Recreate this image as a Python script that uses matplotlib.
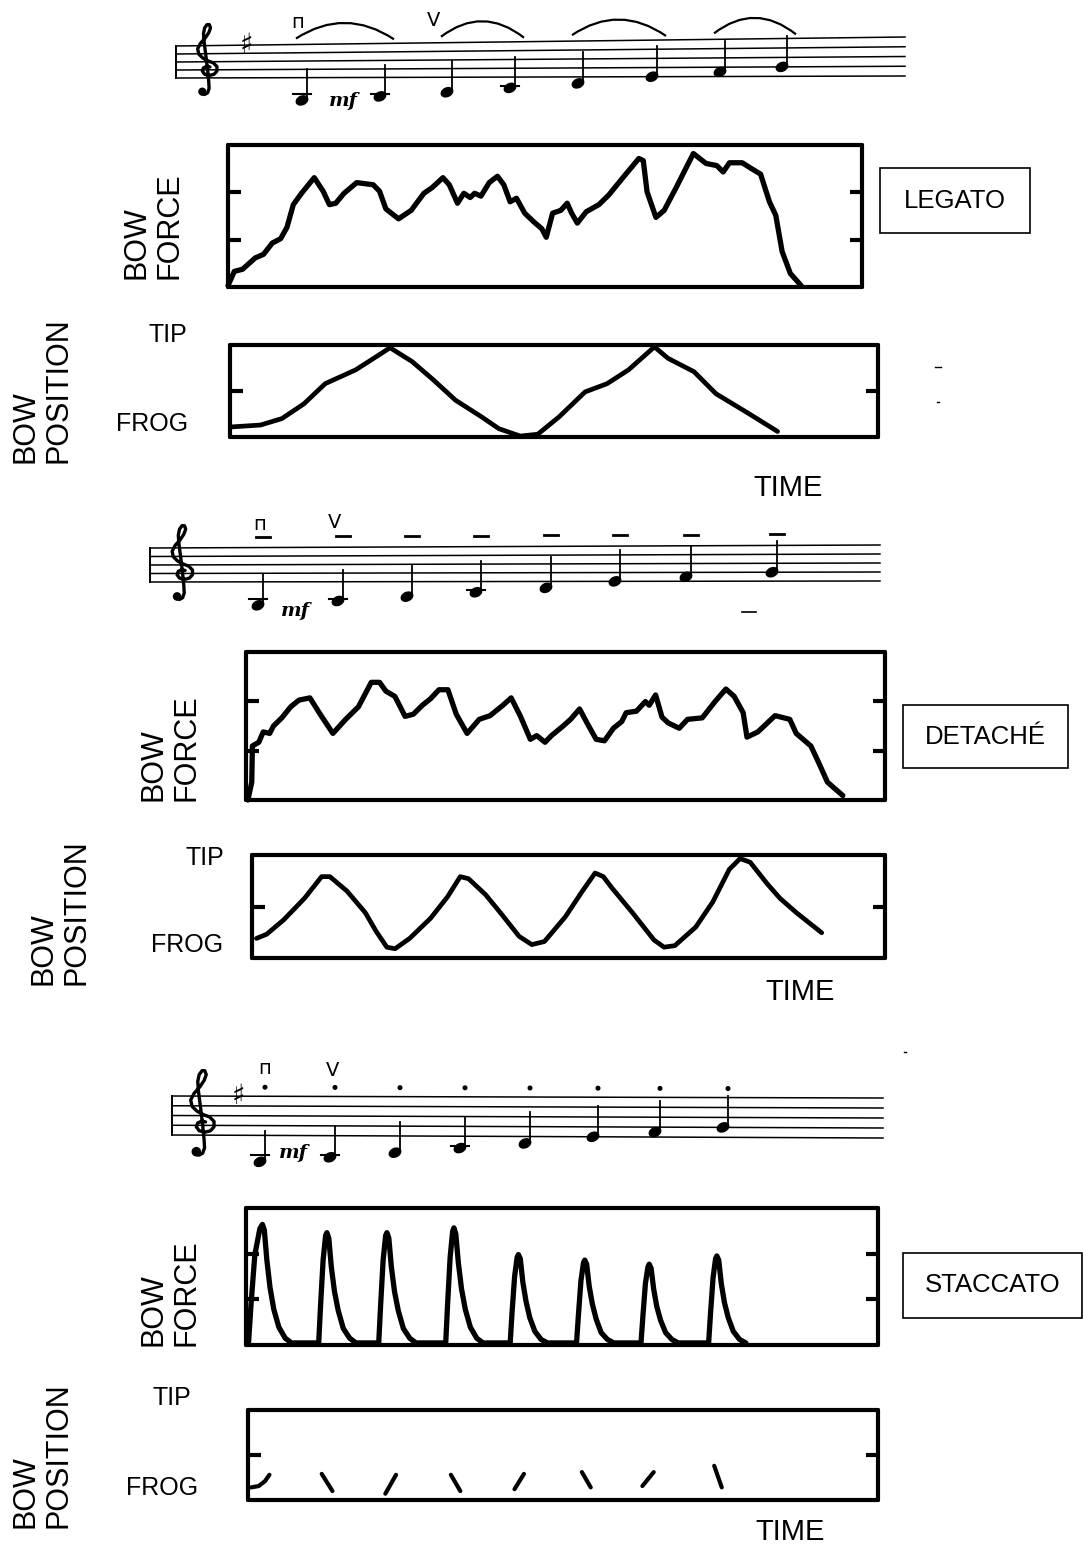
import matplotlib
matplotlib.use("Agg")
import matplotlib.pyplot as plt
from matplotlib.patches import Ellipse, Rectangle, PathPatch, Circle
from matplotlib.path import Path

W, H = 1083, 1548
FONT = "Liberation Sans"

# ---------------- data (normalised time 0..1, value 0..1 inside each panel) ----------------
legato_force = [
    (0.000, 0.01), (0.010, 0.11), (0.023, 0.125), (0.043, 0.205), (0.056, 0.23), (0.070, 0.31),
    (0.083, 0.34), (0.093, 0.42), (0.103, 0.58), (0.116, 0.66), (0.136, 0.77), (0.150, 0.675),
    (0.160, 0.58), (0.170, 0.59), (0.183, 0.66), (0.203, 0.735), (0.229, 0.72), (0.239, 0.675),
    (0.249, 0.55), (0.269, 0.48), (0.289, 0.54), (0.309, 0.66), (0.322, 0.70), (0.339, 0.77),
    (0.349, 0.72), (0.362, 0.59), (0.372, 0.66), (0.382, 0.63), (0.389, 0.66), (0.399, 0.64),
    (0.412, 0.735), (0.425, 0.78), (0.435, 0.72), (0.445, 0.60), (0.455, 0.625), (0.468, 0.52),
    (0.482, 0.46), (0.495, 0.41), (0.502, 0.35), (0.512, 0.52), (0.525, 0.54), (0.535, 0.59),
    (0.542, 0.52), (0.551, 0.45), (0.565, 0.53), (0.585, 0.58), (0.601, 0.65), (0.621, 0.76),
    (0.648, 0.905), (0.655, 0.89), (0.661, 0.67), (0.675, 0.49), (0.688, 0.54), (0.708, 0.71),
    (0.734, 0.94), (0.754, 0.87), (0.771, 0.855), (0.781, 0.81), (0.791, 0.875), (0.811, 0.875),
    (0.827, 0.83), (0.840, 0.795), (0.854, 0.60), (0.864, 0.505), (0.874, 0.25), (0.887, 0.095),
    (0.904, 0.01),
]

legato_position = [
    (0.003, 0.11), (0.047, 0.13), (0.080, 0.20), (0.114, 0.36), (0.147, 0.58), (0.194, 0.73),
    (0.214, 0.82), (0.247, 0.97), (0.281, 0.82), (0.314, 0.62), (0.348, 0.40), (0.388, 0.22),
    (0.415, 0.09), (0.448, 0.01), (0.475, 0.03), (0.508, 0.22), (0.548, 0.49), (0.582, 0.58),
    (0.615, 0.73), (0.655, 0.98), (0.676, 0.855), (0.716, 0.71), (0.750, 0.47), (0.797, 0.27),
    (0.845, 0.06),
]

detache_force = [
    (0.003, 0.00), (0.009, 0.12), (0.010, 0.365), (0.020, 0.39), (0.027, 0.46), (0.037, 0.45),
    (0.043, 0.50), (0.056, 0.555), (0.070, 0.63), (0.083, 0.675), (0.100, 0.69), (0.116, 0.58),
    (0.136, 0.45), (0.156, 0.545), (0.176, 0.63), (0.196, 0.795), (0.209, 0.795), (0.219, 0.735),
    (0.233, 0.70), (0.249, 0.565), (0.262, 0.58), (0.276, 0.64), (0.289, 0.685), (0.302, 0.745),
    (0.316, 0.745), (0.329, 0.58), (0.346, 0.45), (0.365, 0.545), (0.382, 0.57), (0.402, 0.64),
    (0.415, 0.69), (0.429, 0.57), (0.445, 0.41), (0.455, 0.435), (0.468, 0.39), (0.478, 0.435),
    (0.495, 0.495), (0.508, 0.545), (0.522, 0.615), (0.535, 0.51), (0.548, 0.41), (0.561, 0.40),
    (0.575, 0.485), (0.588, 0.53), (0.595, 0.59), (0.611, 0.60), (0.625, 0.665), (0.631, 0.64),
    (0.641, 0.71), (0.651, 0.56), (0.661, 0.52), (0.678, 0.485), (0.691, 0.545), (0.714, 0.555),
    (0.734, 0.665), (0.751, 0.75), (0.764, 0.70), (0.778, 0.59), (0.784, 0.425), (0.801, 0.46),
    (0.828, 0.57), (0.851, 0.545), (0.861, 0.45), (0.884, 0.365), (0.897, 0.245), (0.910, 0.12),
    (0.934, 0.03),
]

detache_position = [
    (0.007, 0.19), (0.023, 0.23), (0.050, 0.37), (0.083, 0.58), (0.110, 0.79), (0.123, 0.79),
    (0.150, 0.65), (0.179, 0.44), (0.196, 0.26), (0.213, 0.105), (0.226, 0.09), (0.249, 0.19),
    (0.282, 0.385), (0.309, 0.595), (0.329, 0.79), (0.342, 0.77), (0.369, 0.615), (0.395, 0.42),
    (0.422, 0.21), (0.442, 0.13), (0.462, 0.16), (0.495, 0.40), (0.522, 0.65), (0.542, 0.825),
    (0.555, 0.79), (0.568, 0.685), (0.601, 0.44), (0.635, 0.175), (0.651, 0.105), (0.668, 0.12),
    (0.701, 0.30), (0.728, 0.545), (0.754, 0.86), (0.771, 0.965), (0.787, 0.93), (0.814, 0.72),
    (0.834, 0.58), (0.860, 0.44), (0.900, 0.245),
]

staccato_force = [
    (0.004, 0.015), (0.008, 0.30), (0.014, 0.66), (0.022, 0.85), (0.026, 0.88), (0.029, 0.84),
    (0.033, 0.62), (0.038, 0.42), (0.044, 0.26), (0.052, 0.13), (0.062, 0.05), (0.072, 0.015),
    (0.115, 0.015), (0.118, 0.29), (0.122, 0.62), (0.126, 0.80), (0.128, 0.82), (0.131, 0.78),
    (0.135, 0.57), (0.140, 0.39), (0.146, 0.25), (0.154, 0.12), (0.164, 0.05), (0.174, 0.015),
    (0.210, 0.015), (0.213, 0.29), (0.217, 0.62), (0.221, 0.80), (0.223, 0.82), (0.226, 0.78),
    (0.230, 0.57), (0.235, 0.39), (0.241, 0.25), (0.249, 0.12), (0.259, 0.05), (0.269, 0.015),
    (0.316, 0.015), (0.319, 0.30), (0.323, 0.64), (0.327, 0.83), (0.329, 0.855), (0.332, 0.81),
    (0.336, 0.60), (0.341, 0.41), (0.347, 0.26), (0.355, 0.13), (0.365, 0.05), (0.375, 0.015),
    (0.418, 0.015), (0.421, 0.24), (0.425, 0.50), (0.429, 0.64), (0.431, 0.66), (0.434, 0.63),
    (0.438, 0.46), (0.443, 0.32), (0.449, 0.20), (0.457, 0.10), (0.467, 0.04), (0.477, 0.015),
    (0.523, 0.015), (0.526, 0.22), (0.530, 0.47), (0.534, 0.60), (0.536, 0.62), (0.539, 0.59),
    (0.543, 0.43), (0.548, 0.30), (0.554, 0.19), (0.562, 0.09), (0.572, 0.04), (0.582, 0.015),
    (0.625, 0.015), (0.628, 0.21), (0.632, 0.45), (0.636, 0.57), (0.638, 0.59), (0.641, 0.56),
    (0.645, 0.41), (0.650, 0.28), (0.656, 0.18), (0.664, 0.09), (0.674, 0.04), (0.684, 0.015),
    (0.732, 0.015), (0.735, 0.23), (0.739, 0.49), (0.743, 0.63), (0.745, 0.65), (0.748, 0.62),
    (0.752, 0.45), (0.757, 0.31), (0.763, 0.20), (0.771, 0.10), (0.781, 0.04), (0.791, 0.015),
]

staccato_position_strokes = [
    [(0.005, 0.14), (0.017, 0.155), (0.027, 0.21), (0.034, 0.28)],
    [(0.117, 0.29), (0.134, 0.10)],
    [(0.235, 0.28), (0.218, 0.07)],
    [(0.322, 0.28), (0.337, 0.10)],
    [(0.438, 0.29), (0.423, 0.12)],
    [(0.530, 0.31), (0.544, 0.14)],
    [(0.644, 0.31), (0.626, 0.155)],
    [(0.740, 0.38), (0.752, 0.14)],
]

force_ticks = [1 / 3, 2 / 3]
position_ticks = [0.5]

scale_notes = ["G3", "A3", "B3", "C4", "D4", "E4", "F#4", "G4"]
note_steps = [-5, -4, -3, -2, -1, 0, 1, 2]          # diatonic steps above the bottom staff line (E4)
ledger_steps = [-4, -4, None, -2, None, None, None, None]
slur_pairs = [(0, 1), (2, 3), (4, 5), (6, 7)]

style_names = ["LEGATO", "DETACHÉ", "STACCATO"]

# ---------------- layout (pixels) ----------------
sections = [
    dict(name=style_names[0], force_box=(228, 145, 862, 287), pos_box=(230, 345, 878, 437),
         force_lbl=(153, 279), pos_lbl=(42, 463), tip=(168, 335), frog=(152, 424),
         style_box=(880, 168, 1030, 233), time=(788, 488),
         staff=(176, 905, 78, 76, 46, 37), clef_x=207, keysig_x=246,
         notes_x=[302, 380, 447, 510, 578, 652, 720, 782], mf=(343, 101),
         bows=[(298, 22), (434, 20)], art="slur",
         force=legato_force, position=legato_position),
    dict(name=style_names[1], force_box=(246, 652, 885, 800), pos_box=(252, 855, 885, 958),
         force_lbl=(170, 801), pos_lbl=(60, 985), tip=(205, 858), frog=(187, 945),
         style_box=(903, 705, 1068, 768), time=(800, 992),
         staff=(150, 880, 582, 581, 548, 545), clef_x=182, keysig_x=None,
         notes_x=[258, 338, 407, 476, 546, 615, 686, 772], mf=(295, 611),
         bows=[(260, 524), (335, 523)], art="tenuto",
         force=detache_force, position=detache_position),
    dict(name=style_names[2], force_box=(246, 1208, 878, 1345), pos_box=(248, 1410, 878, 1500),
         force_lbl=(170, 1346), pos_lbl=(42, 1528), tip=(172, 1398), frog=(162, 1488),
         style_box=(903, 1253, 1082, 1318), time=(790, 1532),
         staff=(172, 883, 1135, 1138, 1096, 1098), clef_x=202, keysig_x=238,
         notes_x=[260, 330, 395, 460, 525, 593, 655, 723], mf=(293, 1153),
         bows=[(265, 1069), (333, 1071)], art="staccato",
         force=staccato_force, position=None),
]

fig = plt.figure(figsize=(W / 100, H / 100), dpi=100)
fig.patch.set_facecolor("white")
ov = fig.add_axes([0, 0, 1, 1])
ov.set_xlim(0, W)
ov.set_ylim(H, 0)
ov.axis("off")


def panel(box, ticks):
    x0, y0, x1, y1 = box
    ax = fig.add_axes([x0 / W, 1 - y1 / H, (x1 - x0) / W, (y1 - y0) / H])
    ax.set_xlim(0, 1)
    ax.set_ylim(0, 1)
    ax.patch.set_alpha(0)
    for s in ax.spines.values():
        s.set_linewidth(3.0)
        s.set_capstyle("round")
    ax.set_xticks([])
    ax.set_yticks(ticks)
    ax.tick_params(axis="y", direction="in", left=True, right=True, length=9, width=3,
                   labelleft=False, labelright=False)
    return ax


def curve(ax, pts, lw=3.8):
    xs = [p[0] for p in pts]
    ys = [p[1] for p in pts]
    ax.plot(xs, ys, color="black", lw=lw, solid_capstyle="round", solid_joinstyle="round",
            clip_on=False)


CLEF = [(0.25, 1.35), (0.0, 1.45), (-0.3, 1.25), (-0.4, 0.85), (-0.2, 0.45), (0.2, 0.3),
        (0.6, 0.45), (0.85, 0.85), (0.85, 1.4), (0.55, 1.85), (0.1, 2.1), (-0.35, 2.45),
        (-0.7, 2.95), (-0.8, 3.6), (-0.55, 4.3), (-0.15, 4.95), (0.15, 5.6), (0.3, 6.2),
        (0.2, 6.6), (0.0, 6.6), (-0.2, 6.2), (-0.3, 5.5), (-0.25, 4.5), (-0.1, 2.8),
        (0.05, 1.0), (0.15, -0.5), (0.18, -1.3), (0.05, -1.85), (-0.2, -2.05), (-0.45, -1.95),
        (-0.55, -1.7)]


def draw_staff(sec):
    x0, x1, yb0, yb1, yt0, yt1 = sec["staff"]

    def geom(x):
        f = (x - x0) / (x1 - x0)
        yb = yb0 + (yb1 - yb0) * f
        yt = yt0 + (yt1 - yt0) * f
        return yb, (yb - yt) / 4.0

    def ypos(x, step):
        yb, sp = geom(x)
        return yb - step * sp / 2.0

    for i in range(5):
        ov.plot([x0, x1], [yb0 + (yt0 - yb0) * i / 4, yb1 + (yt1 - yb1) * i / 4],
                color="black", lw=1.1)
    ov.plot([x0, x0], [yb0, yt0], color="black", lw=1.4)

    # G clef
    cx = sec["clef_x"]
    yb, sp = geom(cx)
    xs = [cx + u * sp * 1.45 for u, v in CLEF]
    ys = [yb - v * sp for u, v in CLEF]
    ov.plot(xs, ys, color="black", lw=2.4, solid_joinstyle="round", solid_capstyle="round")
    ov.add_patch(Circle((cx - 0.4 * sp * 1.45, yb + 1.7 * sp), sp * 0.42, color="black"))

    if sec["keysig_x"] is not None:
        kx = sec["keysig_x"]
        ov.text(kx, ypos(kx, 8), "♯", fontsize=20, family="DejaVu Sans", weight="bold",
                ha="center", va="center", color="black")

    heads = []
    for nx, st, lg in zip(sec["notes_x"], note_steps, ledger_steps):
        ny = ypos(nx, st) + (2 if st < 0 else 0)
        heads.append((nx, ny))
        ov.add_patch(Ellipse((nx, ny), 12, 8.5, angle=-25, color="black"))
        ov.plot([nx + 5, nx + 5], [ny - 1, ny - 31], color="black", lw=1.3)
        if lg is not None:
            ly = ypos(nx, lg)
            ov.plot([nx - 9, nx + 9], [ly, ly], color="black", lw=1.5)

    mx, my = sec["mf"]
    ov.text(mx, my, "mf", fontsize=14, family="DejaVu Serif", style="italic",
            weight="bold", ha="center", va="center")
    for (bx, by), sym in zip(sec["bows"], ["п", "V"]):
        ov.text(bx, by, sym, fontsize=14, family="DejaVu Sans", ha="center", va="center")

    if sec["art"] == "slur":
        for a, b in slur_pairs:
            xa = heads[a][0] - 6
            xb = heads[b][0] + 14
            ya = geom(xa)[0] - 4 * geom(xa)[1] - 6
            yb2 = geom(xb)[0] - 4 * geom(xb)[1] - 4
            cxm = (xa + xb) / 2
            cym = (ya + yb2) / 2 - 32
            p = Path([(xa, ya), (cxm, cym), (xb, yb2)], [Path.MOVETO, Path.CURVE3, Path.CURVE3])
            ov.add_patch(PathPatch(p, fill=False, lw=1.6, color="black"))
    elif sec["art"] == "tenuto":
        for nx, ny in heads:
            yt = geom(nx)[0] - 4 * geom(nx)[1]
            ov.plot([nx - 2, nx + 12], [yt - 11, yt - 11], color="black", lw=2.0)
    else:
        for nx, ny in heads:
            yt = geom(nx)[0] - 4 * geom(nx)[1]
            ov.add_patch(Circle((nx + 5, yt - 9), 1.8, color="black"))


for sec in sections:
    draw_staff(sec)

    fax = panel(sec["force_box"], force_ticks)
    curve(fax, sec["force"], lw=3.8)

    pax = panel(sec["pos_box"], position_ticks)
    if sec["position"] is not None:
        curve(pax, sec["position"], lw=3.4)
    else:
        for stroke in staccato_position_strokes:
            curve(pax, stroke, lw=3.0)

    x, y = sec["force_lbl"]
    ov.text(x, y, "BOW\nFORCE", rotation=90, fontsize=22, family=FONT, ha="center",
            va="bottom", multialignment="left", linespacing=1.15)
    x, y = sec["pos_lbl"]
    ov.text(x, y, "BOW\nPOSITION", rotation=90, fontsize=22, family=FONT, ha="center",
            va="bottom", multialignment="left", linespacing=1.15)
    ov.text(*sec["tip"], "TIP", fontsize=18, family=FONT, ha="center", va="center")
    ov.text(*sec["frog"], "FROG", fontsize=18, family=FONT, ha="center", va="center")
    ov.text(*sec["time"], "TIME", fontsize=21, family=FONT, ha="center", va="center")

    bx0, by0, bx1, by1 = sec["style_box"]
    ov.add_patch(Rectangle((bx0, by0), bx1 - bx0, by1 - by0, fill=False, lw=1.2,
                           edgecolor="black", clip_on=False))
    ov.text((bx0 + bx1) / 2, (by0 + by1) / 2, sec["name"], fontsize=18.5, family=FONT,
            ha="center", va="center")

# small stray specks of the scan
ov.plot([935, 941], [367, 367], color="black", lw=1.0)
ov.plot([937, 939], [402, 402], color="black", lw=1.0)
ov.plot([742, 756], [612, 612], color="black", lw=1.2)
ov.plot([904, 906], [1052, 1052], color="black", lw=1.0)

fig.savefig("out.png", dpi=100, facecolor="white")
